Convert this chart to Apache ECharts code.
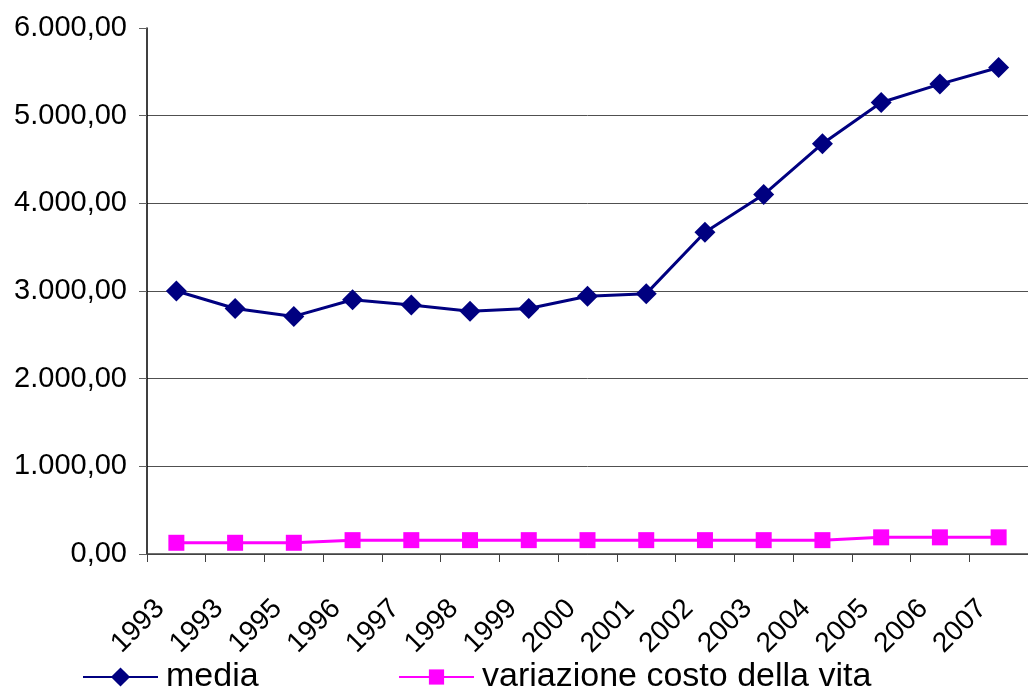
<!DOCTYPE html>
<html>
<head>
<meta charset="utf-8">
<title>media / variazione costo della vita</title>
<script src="https://cdn.jsdelivr.net/npm/echarts@6/dist/echarts.min.js"></script>
<style>
  html, body { margin: 0; padding: 0; background: #ffffff; }
  #chart { width: 1028px; height: 688px; }
</style>
</head>
<body>
<div id="chart"></div>
<script>
// Anni (etichette dell'asse delle categorie)
const anni = ['1993', '1993', '1995', '1996', '1997', '1998', '1999', '2000',
              '2001', '2002', '2003', '2004', '2005', '2006', '2007'];

// Valori della serie "media"
const media = [3000, 2800, 2710, 2900, 2840, 2770, 2800, 2940,
               2970, 3670, 4100, 4680, 5150, 5360, 5550];

// Valori della serie "variazione costo della vita"
const costoVita = [128, 128, 128, 158, 158, 158, 158, 158,
                   158, 158, 158, 158, 190, 190, 190];

// Tacche dell'asse dei valori
const yTicks = { min: 0, max: 6000, step: 1000 };

const fontFamily = '"Liberation Sans", Arial, Helvetica, sans-serif';

// Formato numerico italiano: 6.000,00
function formatIt(v) {
  const parts = Number(v).toFixed(2).split('.');
  parts[0] = parts[0].replace(/\B(?=(\d{3})+(?!\d))/g, '.');
  return parts.join(',');
}

const chart = echarts.init(document.getElementById('chart'), null, { renderer: 'canvas' });

const legendText = { color: '#000000', fontFamily: fontFamily, fontSize: 34, padding: [0, 0, 0, 3] };

chart.setOption({
  animation: false,
  backgroundColor: '#ffffff',
  grid: { left: 147, top: 28, width: 889, height: 526, containLabel: false },
  xAxis: {
    type: 'category',
    data: anni,
    boundaryGap: true,
    axisLine: { show: true, lineStyle: { color: '#404040', width: 1.5 } },
    axisTick: { show: true, inside: false, length: 8, alignWithLabel: false,
                lineStyle: { color: '#404040', width: 1 } },
    axisLabel: {
      interval: 0,
      rotate: 45,
      margin: 34,
      padding: [0, 23, 0, 0],
      color: '#000000',
      fontFamily: fontFamily,
      fontSize: 28
    },
    splitLine: { show: false }
  },
  yAxis: {
    type: 'value',
    min: yTicks.min,
    max: yTicks.max,
    interval: yTicks.step,
    axisLine: { show: true, lineStyle: { color: '#000000', width: 1.5 } },
    axisTick: { show: true, inside: false, length: 8, lineStyle: { color: '#606060', width: 1 } },
    axisLabel: {
      margin: 20,
      color: '#000000',
      fontFamily: fontFamily,
      fontSize: 29,
      formatter: formatIt
    },
    splitLine: { show: true, showMaxLine: false, lineStyle: { color: '#505050', width: 1 } }
  },
  legend: [
    {
      data: ['media'],
      left: 82,
      top: 660,
      padding: 0,
      itemWidth: 75,
      itemHeight: 24,
      textStyle: legendText
    },
    {
      data: ['variazione costo della vita'],
      left: 398,
      top: 660,
      padding: 0,
      itemWidth: 75,
      itemHeight: 19,
      textStyle: legendText
    }
  ],
  series: [
    {
      name: 'media',
      type: 'line',
      data: media,
      symbol: 'diamond',
      symbolSize: 21,
      showAllSymbol: true,
      lineStyle: { color: '#000080', width: 3 },
      itemStyle: { color: '#000080', borderWidth: 0 },
      emphasis: { disabled: true },
      z: 3
    },
    {
      name: 'variazione costo della vita',
      type: 'line',
      data: costoVita,
      symbol: 'rect',
      symbolSize: 16,
      showAllSymbol: true,
      lineStyle: { color: '#FF00FF', width: 3 },
      itemStyle: { color: '#FF00FF', borderWidth: 0 },
      emphasis: { disabled: true },
      z: 2
    }
  ]
});
</script>
</body>
</html>
